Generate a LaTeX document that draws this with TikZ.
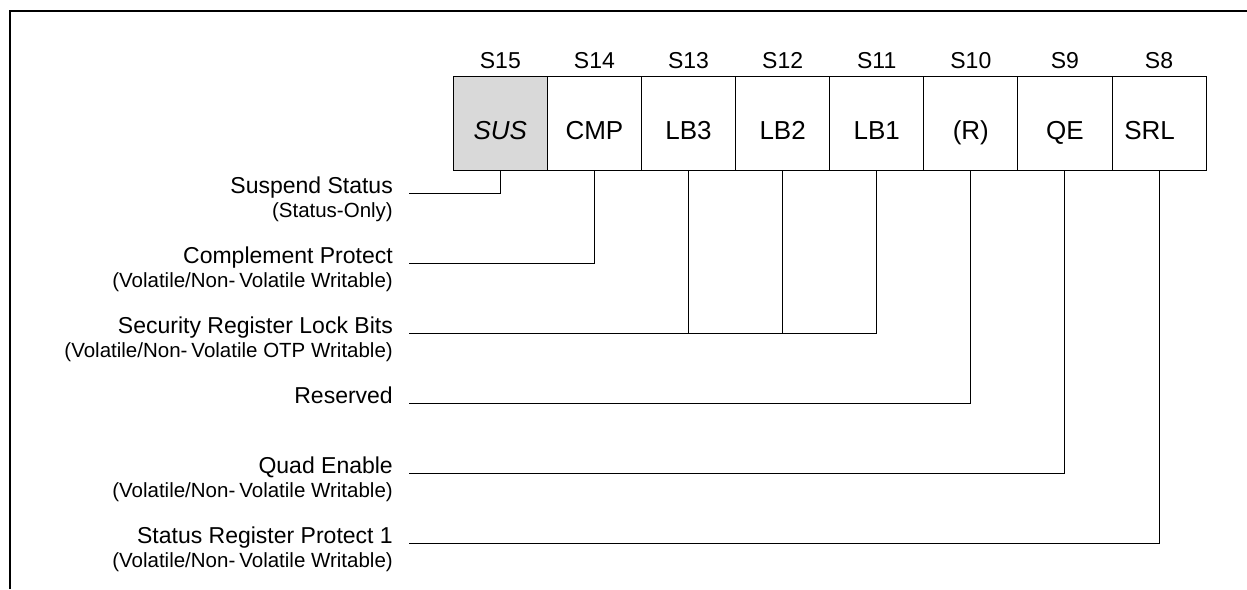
\documentclass[tikz,border=0pt]{standalone}
\usepackage{fontspec}
\setmainfont{Liberation Sans}
\begin{document}
\begin{tikzpicture}[x=1pt,y=-1pt,
  cell/.style={draw=black, line width=1pt, minimum width=94.1pt, minimum height=94pt,
    inner sep=0pt, outer sep=0pt, text height=32.6pt, text depth=0pt,
    font=\fontsize{26}{30}\selectfont},
  hdr/.style={anchor=base, inner sep=0pt, font=\fontsize{23}{27}\selectfont},
  mainlbl/.style={anchor=base east, inner sep=0pt, font=\fontsize{23}{27}\selectfont},
  sublbl/.style={anchor=base east, inner sep=0pt, font=\fontsize{20.5}{24}\selectfont},
  wire/.style={draw=black, line width=1pt}]
\useasboundingbox (0,0) rectangle (1247,589);
% frame
\draw[line width=2pt] (10,589) -- (10,11) -- (1247,11);
% cells
\node[cell, fill={rgb,255:red,217;green,217;blue,217}] (c15) at (500.35,123) {\itshape SUS};
\node[cell] (c14) at (594.45,123) {CMP};
\node[cell] (c13) at (688.55,123) {LB3};
\node[cell] (c12) at (782.65,123) {LB2};
\node[cell] (c11) at (876.75,123) {LB1};
\node[cell] (c10) at (970.85,123) {(R)};
\node[cell] (c9)  at (1064.95,123) {QE};
\node[cell] (c8)  at (1159.05,123) {\kern-19pt SRL};
% headers
\foreach \n in {15,14,13,12,11,10,9,8}{
  \node[hdr] (h\n) at ([yshift=7.5pt]c\n.north) {S\n};
}
% labels
\node[mainlbl] (lSus) at (393,193) {Suspend Status};
\node[sublbl]  (sSus) at (393,217) {(Status-Only)};
\node[mainlbl] (lCmp) at (393,263) {Complement Protect};
\node[sublbl]  (sCmp) at (393,287) {(Volatile/Non-\kern4pt Volatile Writable)};
\node[mainlbl] (lLb)  at (393,333) {Security Register Lock Bits};
\node[sublbl]  (sLb)  at (393,357) {(Volatile/Non-\kern4pt Volatile OTP Writable)};
\node[mainlbl] (lR)   at (393,403) {Reserved};
\node[mainlbl] (lQe)  at (393,473) {Quad Enable};
\node[sublbl]  (sQe)  at (393,497) {(Volatile/Non-\kern4pt Volatile Writable)};
\node[mainlbl] (lSrl) at (393,543) {Status Register Protect 1};
\node[sublbl]  (sSrl) at (393,567) {(Volatile/Non-\kern4pt Volatile Writable)};
% line start points
\coordinate (pSus) at (409,193);
\coordinate (pCmp) at (409,263);
\coordinate (pLb)  at (409,333);
\coordinate (pR)   at (409,403);
\coordinate (pQe)  at (409,473);
\coordinate (pSrl) at (409,543);
% connectors
\draw[wire] (pSus) -| (c15.south);
\draw[wire] (pCmp) -| (c14.south);
\draw[wire] (pLb)  -| (c11.south);
\draw[wire] (c13.south) -- (c13.south |- pLb);
\draw[wire] (c12.south) -- (c12.south |- pLb);
\draw[wire] (pR)   -| (c10.south);
\draw[wire] (pQe)  -| (c9.south);
\draw[wire] (pSrl) -| (c8.south);
\end{tikzpicture}
\end{document}
